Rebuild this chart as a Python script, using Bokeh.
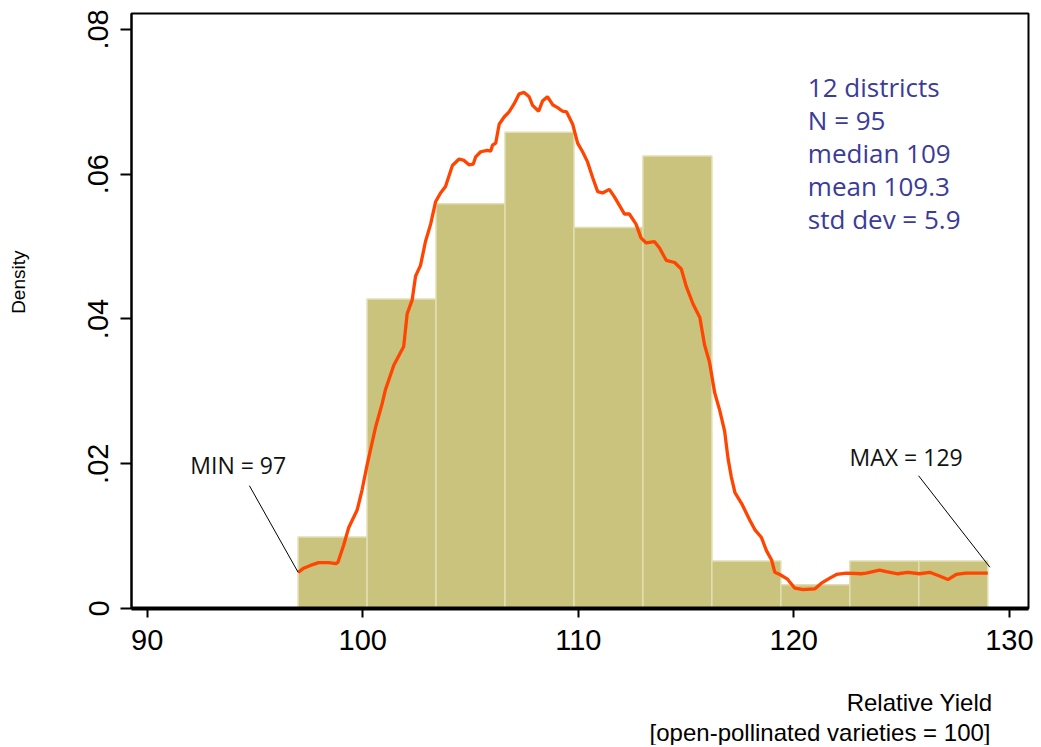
import numpy as np
from bokeh.plotting import figure
from bokeh.models import Range1d, FixedTicker, CustomJSTickFormatter, Label, Title
from bokeh.embed import file_html
from bokeh.resources import INLINE

# ---------------- data ----------------
bin_edges = [97.0, 100.2, 103.4, 106.6, 109.8, 113.0, 116.2, 119.4, 122.6, 125.8, 129.0]
bin_counts = [3, 13, 17, 20, 16, 19, 2, 1, 2, 2]
n_obs = 95
min_val = 97
max_val = 129

kde_x = [97.0, 97.26, 97.57, 97.95, 98.42, 98.76, 98.85, 99.12, 99.35, 99.74, 99.97,
         100.2, 100.59, 100.9, 101.05, 101.44, 101.9, 102.06, 102.29, 102.45, 102.68,
         102.91, 103.15, 103.38, 103.61, 103.84, 104.16, 104.47, 104.7, 104.93, 105.13,
         105.24, 105.47, 105.78, 105.94, 106.02, 106.17, 106.33, 106.56, 106.79, 107.02,
         107.26, 107.49, 107.72, 107.88, 108.16, 108.34, 108.57, 108.81, 109.04, 109.27,
         109.46, 109.74, 109.97, 110.2, 110.43, 110.67, 110.9, 111.13, 111.44, 111.67,
         111.91, 112.14, 112.37, 112.68, 112.91, 113.15, 113.53, 113.77, 114.08, 114.47,
         114.78, 115.01, 115.32, 115.64, 115.86, 116.09, 116.33, 116.56, 116.79, 116.95,
         117.1, 117.27, 117.58, 117.96, 118.19, 118.5, 118.73, 118.97, 119.12, 119.35,
         119.69, 120.05, 120.43, 120.97, 121.28, 121.67, 121.98, 122.44, 123.13, 123.36,
         123.98, 124.29, 124.83, 125.29, 125.83, 126.3, 126.76, 127.15, 127.53, 127.99,
         129.0]
kde_y = [0.0050, 0.00557, 0.00595, 0.00633, 0.00633, 0.0062, 0.0064, 0.0088, 0.0112, 0.0136, 0.0164,
         0.0198, 0.0250, 0.0283, 0.0302, 0.0336, 0.0362, 0.0407, 0.0426, 0.0459, 0.0474,
         0.0507, 0.0531, 0.0562, 0.0574, 0.0583, 0.0612, 0.0621, 0.0619, 0.0613, 0.0614,
         0.0624, 0.0631, 0.0633, 0.0632, 0.0640, 0.0643, 0.0669, 0.0679, 0.0686, 0.0697,
         0.0711, 0.0713, 0.0707, 0.0695, 0.0687, 0.0701, 0.0707, 0.0696, 0.0692, 0.0687,
         0.0686, 0.0669, 0.0643, 0.0631, 0.0617, 0.0595, 0.0576, 0.0574, 0.0579, 0.0569,
         0.0557, 0.0545, 0.0545, 0.0531, 0.0512, 0.0505, 0.0507, 0.0498, 0.0481, 0.0478,
         0.0469, 0.0445, 0.0421, 0.0402, 0.0364, 0.0340, 0.0298, 0.0274, 0.0245, 0.0207,
         0.0182, 0.0160, 0.0145, 0.0122, 0.0109, 0.0098, 0.0080, 0.0067, 0.0050, 0.0047,
         0.0041, 0.0028, 0.0026, 0.0027, 0.0035, 0.0042, 0.0047, 0.0049, 0.0048, 0.0049,
         0.0053, 0.0051, 0.0048, 0.0050, 0.0048, 0.0050, 0.0045, 0.0040, 0.0047, 0.0049,
         0.0049]

x_ticks = [90, 100, 110, 120, 130]
y_ticks = [0, 0.02, 0.04, 0.06, 0.08]
y_tick_labels = ["0", ".02", ".04", ".06", ".08"]
stats_lines = ["12 districts", "N = 95", "median 109", "mean 109.3", "std dev = 5.9"]
x_title_lines = ["Relative Yield", "[open-pollinated varieties = 100]"]
y_title = "Density"

# ---------------- derived ----------------
edges = np.array(bin_edges)
widths = np.diff(edges)
density = np.array(bin_counts) / (n_obs * widths)

p = figure(width=1036, height=745, output_backend="svg", toolbar_location=None,
           x_range=Range1d(89.27, 130.89), y_range=Range1d(0, 0.0822),
           min_border_left=131, min_border_right=8, min_border_top=13, min_border_bottom=136,
           background_fill_color="white", border_fill_color="white")
p.xgrid.visible = False
p.ygrid.visible = False
p.outline_line_color = "black"
p.outline_line_width = 2

p.quad(left=edges[:-1], right=edges[1:], bottom=0, top=density,
       fill_color="#C9C37E", line_color="#E2DEB2", line_width=1.5)
p.line(kde_x, kde_y, line_color="#FF4500", line_width=3.3)

# axes
p.xaxis.ticker = FixedTicker(ticks=x_ticks)
p.xaxis.axis_line_width = 4
p.xaxis.major_tick_out = 9
p.xaxis.major_tick_in = 0
p.xaxis.major_tick_line_width = 2
p.xaxis.minor_tick_line_color = None
p.xaxis.major_label_standoff = 12
p.xaxis.major_label_text_font = "Liberation Sans"
p.xaxis.major_label_text_font_size = "29px"
p.xaxis.major_label_text_color = "black"
p.xaxis.axis_label = " "
p.xaxis.axis_label_text_font_size = "2px"
p.xaxis.axis_label_standoff = 28

p.yaxis.ticker = FixedTicker(ticks=y_ticks)
p.yaxis.formatter = CustomJSTickFormatter(args=dict(tv=y_ticks, tl=y_tick_labels), code="""
    for (let i = 0; i < tv.length; i++) { if (Math.abs(tv[i] - tick) < 1e-9) return tl[i]; }
    return "";
""")
p.yaxis.axis_line_width = 2
p.yaxis.major_tick_out = 11
p.yaxis.major_tick_in = 0
p.yaxis.major_tick_line_width = 2
p.yaxis.minor_tick_line_color = None
p.yaxis.major_label_orientation = "vertical"
p.yaxis.major_label_standoff = 12
p.yaxis.major_label_text_font = "Liberation Sans"
p.yaxis.major_label_text_font_size = "29px"
p.yaxis.major_label_text_color = "black"
p.yaxis.axis_label = " "
p.yaxis.axis_label_text_font_size = "2px"
p.yaxis.axis_label_standoff = 52

# y title (left, placed toward the top)
p.add_layout(Title(text=y_title, align="right", offset=237, standoff=0,
                   text_font="Liberation Sans", text_font_size="19px",
                   text_font_style="normal", text_color="black"), "left")

# x title (right-aligned, two lines)
p.add_layout(Title(text=x_title_lines[0], align="right", offset=36, standoff=2,
                   text_font="Liberation Sans", text_font_size="24px",
                   text_font_style="normal", text_color="black"), "below")
p.add_layout(Title(text=x_title_lines[1], align="right", offset=38, standoff=0,
                   text_font="Liberation Sans", text_font_size="24px",
                   text_font_style="normal", text_color="black"), "below")

# stats block
for i, s in enumerate(stats_lines):
    p.add_layout(Label(x=120.65, y=0.072 - i * 0.00455, text=s,
                       text_font="Open Sans", text_font_size="26px",
                       text_color="#3B3B9A", text_baseline="alphabetic"))

# min / max callouts
p.add_layout(Label(x=92.0, y=0.01766, text=f"MIN = {min_val}", text_font="Open Sans",
                   text_font_size="23px", text_color="#111111"))
p.add_layout(Label(x=122.59, y=0.01876, text=f"MAX = {max_val}", text_font="Open Sans",
                   text_font_size="23px", text_color="#111111"))
p.segment(x0=[min_val - 2.26, max_val - 3.21], y0=[0.01697, 0.01834],
          x1=[min_val, max_val + 0.1], y1=[kde_y[0], 0.0057],
          line_color="black", line_width=1)

open("out.html", "w").write(file_html(p, INLINE))
